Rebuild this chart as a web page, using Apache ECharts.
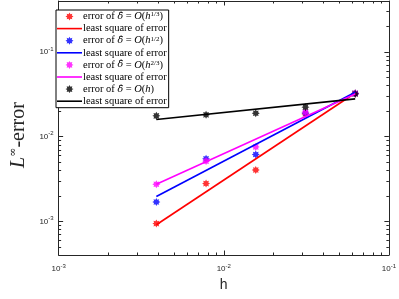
<!DOCTYPE html>
<html><head><meta charset="utf-8">
<script src="https://cdn.jsdelivr.net/npm/echarts@6/dist/echarts.min.js"></script>
<style>html,body{margin:0;padding:0;background:#fff}#c{width:399px;height:299px}</style>
</head><body><div id="c"></div>
<script>
// ---- data ----
const h = [1/256, 1/128, 1/64, 1/32, 1/16];
const errA = [0.00094, 0.00279, 0.00404, 0.0185, 0.0325];   // O(h^{1/3})
const errB = [0.00169, 0.00547, 0.00615, 0.0190, 0.0325];   // O(h^{1/2})
const errC = [0.00274, 0.00514, 0.00757, 0.0195, 0.0322];   // O(h^{2/3})
const errD = [0.0176, 0.0181, 0.0189, 0.0223, 0.0319];      // O(h)
const fitH = [1/256, 1/16];
const fitA = [0.00091, 0.0328];
const fitB = [0.00196, 0.0334];
const fitC = [0.00274, 0.0319];
const fitD = [0.01596, 0.0279];
const xMajor = [0.001, 0.01, 0.1];
const yMajor = [0.001, 0.01, 0.1];
const xRange = [0.001, 0.1];
const yRange = [0.0004, 0.4];

// ---- styles ----
function star(n, rIn){
  let p = 'path://';
  for (let i = 0; i < 2*n; i++){
    const r = i % 2 ? rIn : 1;
    const a = Math.PI * i / n - Math.PI/2;
    p += (i ? 'L' : 'M') + (r*Math.cos(a)).toFixed(3) + ',' + (r*Math.sin(a)).toFixed(3);
  }
  return p + 'Z';
}
const STAR = star(8, 0.62);
const LINEICON = 'path://M0,0L25,0L25,1.6L0,1.6Z';
function minorTicks(lo, hi){
  const out = [];
  for (let e = -4; e <= 0; e++) for (let k = 2; k <= 9; k++){
    const v = +(k * Math.pow(10, e)).toPrecision(6);
    if (v > lo * 1.0001 && v < hi * 0.9999) out.push(v);
  }
  return out;
}
const AX = '#262626';
const supLabel = v => '10{sup|' + Math.round(Math.log10(v)) + '}';
const labelRich = { sup: { fontSize: 6, verticalAlign: 'bottom', padding: [0,0,6,0], fontFamily: 'Liberation Sans', color: AX } };

function axisSet(dim, range, major, pos, isMain, minor){
  const base = {
    type: 'log', logBase: 10, min: range[0], max: range[1], position: pos,
    gridIndex: 0, splitLine: { show: false }, minorTick: { show: false },
    axisLine: { show: !minor, onZero: false, lineStyle: { color: AX, width: 1 } },
    axisTick: { show: true, inside: true, length: minor ? 2.5 : 4.5, lineStyle: { color: AX, width: 1 },
      customValues: minor ? minorTicks(range[0], range[1]) : major },
    axisLabel: { show: false }
  };
  if (isMain && !minor){
    base.axisLabel = {
      show: true, customValues: major, formatter: supLabel, rich: labelRich,
      color: AX, fontSize: 8, fontFamily: 'Liberation Sans', margin: dim === 'x' ? 8 : 5
    };
  }
  return base;
}
const xAxes = [
  axisSet('x', xRange, xMajor, 'bottom', true, false),
  axisSet('x', xRange, xMajor, 'bottom', true, true),
  axisSet('x', xRange, xMajor, 'top', false, false),
  axisSet('x', xRange, xMajor, 'top', false, true)
];
xAxes[0].name = 'h';
xAxes[0].nameLocation = 'middle';
xAxes[0].nameGap = 20;
xAxes[0].nameTextStyle = { fontSize: 14, fontFamily: 'Liberation Sans', color: AX };
const yAxes = [
  axisSet('y', yRange, yMajor, 'left', true, false),
  axisSet('y', yRange, yMajor, 'left', true, true),
  axisSet('y', yRange, yMajor, 'right', false, false),
  axisSet('y', yRange, yMajor, 'right', false, true)
];
yAxes[0].name = '{it|L}{sup|∞}-error';
yAxes[0].nameLocation = 'middle';
yAxes[0].nameGap = 21;
yAxes[0].nameRotate = 90;
yAxes[0].nameTextStyle = { fontSize: 20, fontFamily: 'Liberation Serif', color: AX, padding: [0, 14, 0, 0],
  rich: { it: { fontStyle: 'italic', fontSize: 20, fontFamily: 'Liberation Serif', color: AX },
          sup: { fontSize: 11, fontFamily: 'DejaVu Serif', verticalAlign: 'bottom', padding: [0,0,10,0], color: AX } } };

function pts(x, y){ return x.map((v, i) => [v, y[i]]); }
function scat(name, col, y){
  return { type: 'scatter', name, data: pts(h, y), symbol: STAR, symbolSize: 8,
    itemStyle: { color: col }, xAxisIndex: 0, yAxisIndex: 0, z: 3 };
}
function fit(name, col, y){
  return { type: 'line', name, data: pts(fitH, y), symbol: 'none', lineStyle: { color: col, width: 1.6 },
    itemStyle: { color: col }, xAxisIndex: 0, yAxisIndex: 0, z: 4 };
}
const legendText = {
  sA: 'error of {d|δ̂} = {it|O}({it|h}{sup|1/3})',
  fA: 'least square of error',
  sB: 'error of {d|δ̂} = {it|O}({it|h}{sup|1/2})',
  fB: 'least square of error',
  sC: 'error of {d|δ̂} = {it|O}({it|h}{sup|2/3})',
  fC: 'least square of error',
  sD: 'error of {d|δ̂} = {it|O}({it|h})',
  fD: 'least square of error'
};
const LF = 10.5;
const chart = echarts.init(document.getElementById('c'), null, { renderer: 'canvas' });
chart.setOption({
  animation: false,
  backgroundColor: '#fff',
  grid: { left: 47, right: 10, top: 1, bottom: 44, containLabel: false, show: false },
  xAxis: xAxes,
  yAxis: yAxes,
  legend: {
    left: 56, top: 10, orient: 'vertical', itemWidth: 25, itemHeight: 8, itemGap: 1.1,
    padding: [1, 2, 1, 1], borderColor: '#000', borderWidth: 1, backgroundColor: '#fff',
    data: [
      { name: 'sA' }, { name: 'fA', icon: LINEICON },
      { name: 'sB' }, { name: 'fB', icon: LINEICON },
      { name: 'sC' }, { name: 'fC', icon: LINEICON },
      { name: 'sD' }, { name: 'fD', icon: LINEICON }
    ],
    formatter: n => legendText[n],
    textStyle: { fontFamily: 'Liberation Serif', fontSize: LF, color: '#000', padding: [0,0,0,-4],
      rich: { it: { fontStyle: 'italic', fontFamily: 'Liberation Serif', fontSize: LF },
              d: { fontStyle: 'italic', fontFamily: 'DejaVu Serif', fontSize: LF - 1 },
              sup: { fontSize: 7, fontFamily: 'Liberation Serif', verticalAlign: 'bottom', padding: [0,0,4,0] } } }
  },
  series: [
    scat('sA', '#ff0000', errA), fit('fA', '#ff0000', fitA),
    scat('sB', '#0000ff', errB), fit('fB', '#0000ff', fitB),
    scat('sC', '#ff00ff', errC), fit('fC', '#ff00ff', fitC),
    scat('sD', '#000000', errD), fit('fD', '#000000', fitD)
  ]
});
</script></body></html>
